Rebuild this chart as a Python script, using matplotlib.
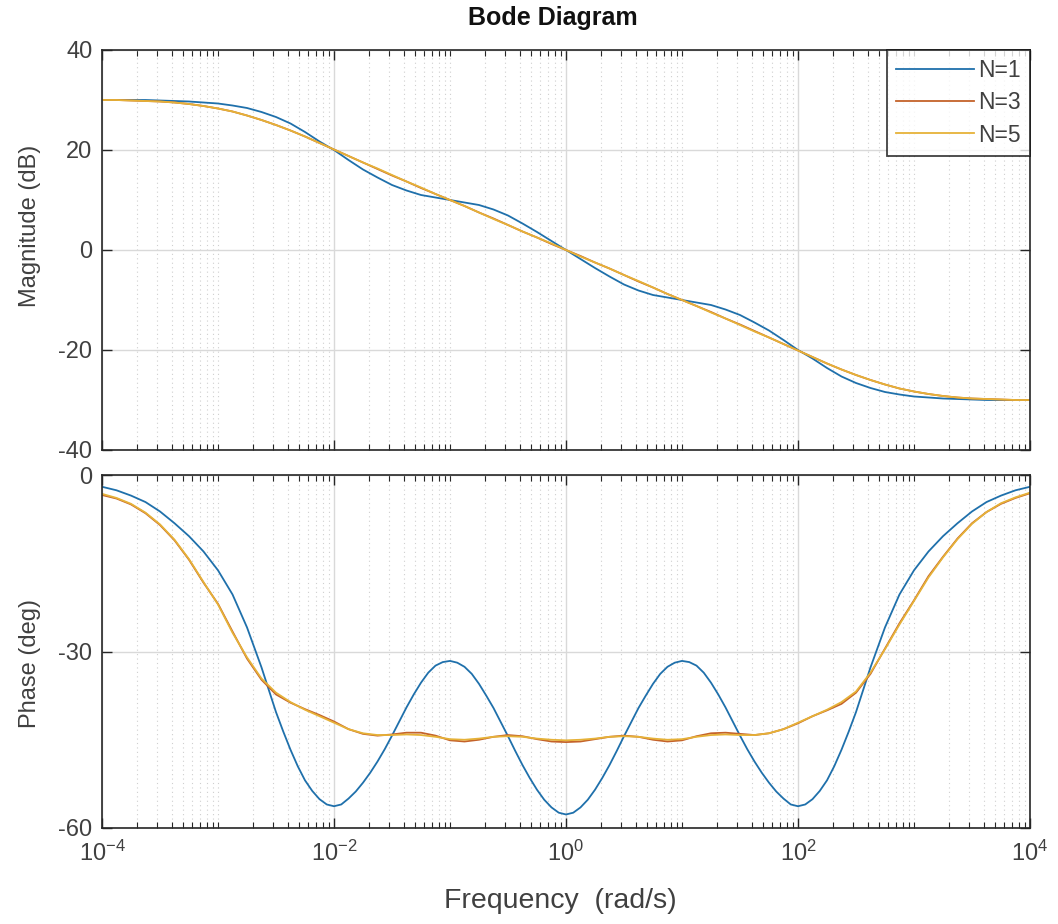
import numpy as np
import matplotlib
matplotlib.use("Agg")
import matplotlib.pyplot as plt
from matplotlib.ticker import FixedLocator, FixedFormatter, LogLocator, NullFormatter

plt.rcParams["font.family"] = ["Liberation Sans", "DejaVu Sans"]
plt.rcParams["mathtext.fontset"] = "custom"
plt.rcParams["mathtext.rm"] = "Liberation Sans"
plt.rcParams["mathtext.it"] = "Liberation Sans:italic"
plt.rcParams["axes.unicode_minus"] = False

# frequency grid, in decades (w = 10**exp rad/s)
freq_exp = [-4.0, -3.875, -3.75, -3.625, -3.5, -3.375, -3.25, -3.125,
            -3.0, -2.875, -2.75, -2.625, -2.5, -2.375, -2.25, -2.125,
            -2.0, -1.875, -1.75, -1.625, -1.5, -1.375, -1.25, -1.125,
            -1.0, -0.875, -0.75, -0.625, -0.5, -0.375, -0.25, -0.125,
            0.0, 0.125, 0.25, 0.375, 0.5, 0.625, 0.75, 0.875,
            1.0, 1.125, 1.25, 1.375, 1.5, 1.625, 1.75, 1.875,
            2.0, 2.125, 2.25, 2.375, 2.5, 2.625, 2.75, 2.875,
            3.0, 3.125, 3.25, 3.375, 3.5, 3.625, 3.75, 3.875, 4.0]

# N=1 phase is wavy, so it is sampled more densely in the middle
ph_n1_exp = [-4.0, -3.875, -3.75, -3.625, -3.5, -3.375, -3.25, -3.125,
             -3.0, -2.875, -2.75, -2.625,
             -2.5, -2.4375, -2.375, -2.3125, -2.25, -2.1875, -2.125, -2.0625,
             -2.0, -1.9375, -1.875, -1.8125, -1.75, -1.6875, -1.625, -1.5625,
             -1.5, -1.4375, -1.375, -1.3125, -1.25, -1.1875, -1.125, -1.0625,
             -1.0, -0.9375, -0.875, -0.8125, -0.75, -0.6875, -0.625, -0.5625,
             -0.5, -0.4375, -0.375, -0.3125, -0.25, -0.1875, -0.125, -0.0625,
             0.0, 0.0625, 0.125, 0.1875, 0.25, 0.3125, 0.375, 0.4375,
             0.5, 0.5625, 0.625, 0.6875, 0.75, 0.8125, 0.875, 0.9375,
             1.0, 1.0625, 1.125, 1.1875, 1.25, 1.3125, 1.375, 1.4375,
             1.5, 1.5625, 1.625, 1.6875, 1.75, 1.8125, 1.875, 1.9375,
             2.0, 2.0625, 2.125, 2.1875, 2.25, 2.3125, 2.375, 2.4375, 2.5,
             2.625, 2.75, 2.875, 3.0, 3.125, 3.25, 3.375, 3.5,
             3.625, 3.75, 3.875, 4.0]

# magnitude (dB)
mag_n1 = [30.0, 30.0, 30.0, 30.0, 29.9, 29.8, 29.7, 29.5,
          29.3, 28.9, 28.4, 27.6, 26.6, 25.3, 23.6, 21.7,
          20.0, 18.0, 16.1, 14.5, 13.0, 11.9, 11.0, 10.5,
          10.0, 9.5, 9.0, 8.1, 6.9, 5.3, 3.6, 1.8,
          0.0, -1.8, -3.6, -5.3, -6.9, -8.1, -9.0, -9.5,
          -10.0, -10.5, -11.0, -11.9, -13.0, -14.5, -16.1, -18.0,
          -20.0, -21.7, -23.6, -25.3, -26.6, -27.6, -28.4, -28.9,
          -29.3, -29.5, -29.7, -29.8, -29.9, -30.0, -30.0, -30.0, -30.0]
mag_n3 = [30.0, 30.0, 29.9, 29.8, 29.7, 29.5, 29.2, 28.8,
          28.3, 27.7, 26.9, 26.0, 25.0, 23.9, 22.7, 21.4,
          20.1, 18.8, 17.5, 16.2, 14.9, 13.7, 12.4, 11.2,
          10.0, 8.8, 7.5, 6.3, 5.0, 3.7, 2.5, 1.2,
          0.0, -1.2, -2.5, -3.7, -5.0, -6.3, -7.5, -8.8,
          -10.0, -11.2, -12.4, -13.7, -14.9, -16.2, -17.5, -18.8,
          -20.1, -21.4, -22.7, -23.9, -25.0, -26.0, -26.9, -27.7,
          -28.3, -28.8, -29.2, -29.5, -29.7, -29.8, -29.9, -30.0, -30.0]
mag_n5 = [30.0, 30.0, 29.9, 29.8, 29.7, 29.5, 29.2, 28.8,
          28.3, 27.7, 26.9, 26.0, 25.0, 23.9, 22.7, 21.4,
          20.1, 18.8, 17.5, 16.3, 15.0, 13.7, 12.5, 11.2,
          10.0, 8.8, 7.5, 6.2, 5.0, 3.7, 2.5, 1.3,
          0.0, -1.3, -2.5, -3.7, -5.0, -6.2, -7.5, -8.8,
          -10.0, -11.2, -12.5, -13.7, -15.0, -16.3, -17.5, -18.8,
          -20.1, -21.4, -22.7, -23.9, -25.0, -26.0, -26.9, -27.7,
          -28.3, -28.8, -29.2, -29.5, -29.7, -29.8, -29.9, -30.0, -30.0]

# phase (deg)
ph_n1 = [-2.0, -2.6, -3.5, -4.6, -6.2, -8.2, -10.4, -13.0,
         -16.2, -20.3, -25.9, -32.7,
         -40.3, -43.6, -46.7, -49.5, -51.9, -53.7, -55.1, -56.0,
         -56.3, -56.0, -55.0, -53.8, -52.3, -50.6, -48.7, -46.6,
         -44.3, -41.9, -39.5, -37.3, -35.3, -33.6, -32.4, -31.8,
         -31.6, -31.9, -32.6, -33.8, -35.5, -37.5, -39.6, -42.0,
         -44.4, -46.9, -49.3, -51.5, -53.5, -55.2, -56.5, -57.4,
         -57.7, -57.4, -56.5, -55.2, -53.5, -51.5, -49.3, -46.9,
         -44.4, -42.0, -39.6, -37.5, -35.5, -33.8, -32.6, -31.9,
         -31.6, -31.8, -32.4, -33.6, -35.3, -37.3, -39.5, -41.9,
         -44.3, -46.6, -48.7, -50.6, -52.3, -53.8, -55.0, -56.0,
         -56.3, -56.0, -55.1, -53.7, -51.9, -49.5, -46.7, -43.6, -40.3,
         -32.7, -25.9, -20.3, -16.2, -13.0, -10.4, -8.2, -6.2,
         -4.6, -3.5, -2.6, -2.0]
ph_n3 = [-3.4, -4.0, -5.0, -6.5, -8.5, -11.1, -14.4, -18.3,
         -21.9, -26.6, -31.2, -34.8, -37.3, -38.7, -39.8, -40.8,
         -41.9, -43.2, -44.0, -44.3, -44.1, -43.8, -43.8, -44.3,
         -45.1, -45.3, -45.0, -44.5, -44.2, -44.4, -44.9, -45.3,
         -45.4, -45.3, -44.9, -44.5, -44.3, -44.5, -45.0, -45.3,
         -45.1, -44.4, -43.9, -43.8, -44.0, -44.2, -43.9, -43.2,
         -42.2, -41.0, -40.0, -38.9, -37.0, -33.8, -29.5, -25.2,
         -21.3, -17.2, -13.9, -10.8, -8.2, -6.3, -4.9, -3.9, -3.1]
ph_n5 = [-3.2, -3.9, -4.9, -6.4, -8.4, -11.0, -14.3, -18.2,
         -22.0, -26.8, -31.0, -34.6, -37.0, -38.6, -39.9, -41.0,
         -42.1, -43.2, -43.9, -44.2, -44.2, -44.1, -44.2, -44.5,
         -44.9, -45.0, -44.8, -44.5, -44.4, -44.5, -44.8, -45.0,
         -45.1, -45.0, -44.8, -44.5, -44.4, -44.5, -44.8, -45.0,
         -44.9, -44.5, -44.2, -44.1, -44.2, -44.2, -43.9, -43.2,
         -42.1, -41.0, -39.9, -38.6, -36.8, -33.6, -29.6, -25.4,
         -21.4, -17.4, -14.0, -10.9, -8.3, -6.3, -4.8, -3.8, -3.0]

labels = ["N=1", "N=3", "N=5"]
colors = ["#1f70ab", "#c4622a", "#e6b238"]

x_ticks = [1e-4, 1e-2, 1e0, 1e2, 1e4]
x_ticklabels = [r"$\mathregular{10^{-4}}$", r"$\mathregular{10^{-2}}$",
                r"$\mathregular{10^{0}}$", r"$\mathregular{10^{2}}$",
                r"$\mathregular{10^{4}}$"]
mag_ticks = [-40, -20, 0, 20, 40]
ph_ticks = [-60, -30, 0]

w = 10.0 ** np.array(freq_exp)
w_n1 = 10.0 ** np.array(ph_n1_exp)
text_col = "#404040"
edge_col = "#262626"

fig = plt.figure(figsize=(10.58, 9.24), dpi=100)
W, H = 1058.0, 924.0
ax_mag = fig.add_axes([102 / W, 1 - 450 / H, 928 / W, 400 / H])
ax_ph = fig.add_axes([102 / W, 1 - 828 / H, 928 / W, 353 / H], sharex=ax_mag)

for m, lab, c in zip([mag_n1, mag_n3, mag_n5], labels, colors):
    ax_mag.plot(w, m, color=c, lw=1.3, label=lab)
ax_ph.plot(w_n1, ph_n1, color=colors[0], lw=1.3)
ax_ph.plot(w, ph_n3, color=colors[1], lw=1.3)
ax_ph.plot(w, ph_n5, color=colors[2], lw=1.3)

for ax in (ax_mag, ax_ph):
    ax.set_xscale("log")
    ax.set_xlim(1e-4, 1e4)
    ax.xaxis.set_major_locator(FixedLocator(x_ticks))
    ax.xaxis.set_minor_locator(LogLocator(base=10, subs=np.arange(1, 10), numticks=100))
    ax.xaxis.set_minor_formatter(NullFormatter())
    ax.grid(which="major", color="#d9d9d9", lw=1.0, ls="-")
    ax.grid(which="minor", axis="x", color="#cfcfcf", lw=0.8, ls=(0, (1, 3)))
    ax.set_axisbelow(True)
    ax.tick_params(which="both", direction="in", top=True, right=True,
                   colors=edge_col, labelcolor=text_col, labelsize=17)
    ax.tick_params(which="major", length=7, width=1.0)
    ax.tick_params(which="minor", length=4, width=0.8)
    ax.tick_params(axis="y", pad=7)
    ax.tick_params(axis="x", pad=9)
    for s in ax.spines.values():
        s.set_color(edge_col)
        s.set_linewidth(1.2)

ax_mag.set_ylim(-40, 40)
ax_mag.set_yticks(mag_ticks)
ax_mag.tick_params(axis="x", which="both", labelbottom=False)
ax_ph.set_ylim(-60, 0)
ax_ph.set_yticks(ph_ticks)
ax_ph.xaxis.set_major_formatter(FixedFormatter(x_ticklabels))

ax_mag.set_ylabel("Magnitude (dB)", fontsize=17, color=text_col)
ax_ph.set_ylabel("Phase (deg)", fontsize=17, color=text_col)
ax_mag.yaxis.set_label_coords(-0.066, 0.56)
ax_ph.yaxis.set_label_coords(-0.066, 0.465)
ax_ph.set_xlabel("Frequency  (rad/s)", fontsize=20.5, color=text_col)
ax_ph.xaxis.set_label_coords(0.4935, -0.17)

fig.text(553 / W, 1 - 18 / H, "Bode Diagram", ha="center", va="center",
         fontsize=18, fontweight="bold", color="#111111")

leg = ax_mag.legend(loc="upper right", borderaxespad=0, fontsize=16.5,
                    fancybox=False, handlelength=3.4, handletextpad=0.2,
                    labelspacing=0.4, borderpad=0.4, alignment="right")
leg.get_frame().set_edgecolor("#111111")
leg.get_frame().set_linewidth(1.3)
for t in leg.get_texts():
    t.set_color(text_col)

fig.savefig("out.png", dpi=100)
